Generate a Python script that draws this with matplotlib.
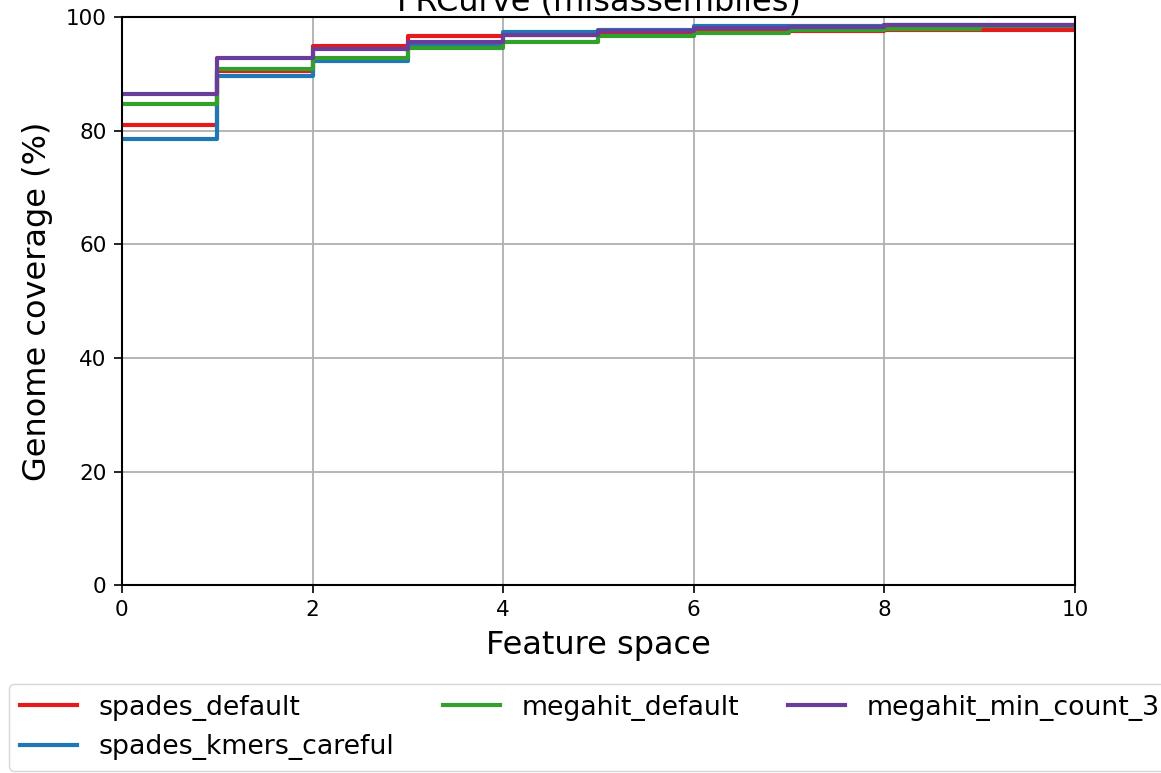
import matplotlib
matplotlib.use("Agg")
import matplotlib.pyplot as plt

x = [0, 1, 2, 3, 4, 5, 6, 7, 8, 9, 10]
names = ["spades_default", "spades_kmers_careful", "megahit_default", "megahit_min_count_3"]
spades_default = [81.0, 90.5, 94.9, 96.7, 96.8, 97.3, 97.5, 97.6, 97.7, 97.7, 97.7]
spades_kmers_careful = [78.5, 89.7, 92.3, 95.0, 97.4, 97.8, 98.4, 98.5, 98.6, 98.6, 98.6]
megahit_default = [84.7, 90.9, 92.7, 94.5, 95.6, 96.6, 97.2, 97.8, 97.9, 98.5, 98.5]
megahit_min_count_3 = [86.4, 92.7, 94.4, 95.6, 96.8, 97.6, 98.0, 98.3, 98.6, 98.6, 98.6]
series = [spades_default, spades_kmers_careful, megahit_default, megahit_min_count_3]
colors = ["#e41a1c", "#1f78b4", "#33a02c", "#6a3d9a"]

fig = plt.figure(figsize=(11.61, 7.73), dpi=100)
ax = fig.add_axes([0.105, 0.243, 0.821, 0.735])
for name, ys, c in zip(names, series, colors):
    ax.plot(x, ys, drawstyle="steps-post", color=c, lw=3, label=name)
ax.set_xlim(0, 10)
ax.set_ylim(0, 100)
ax.grid(True, color="#b0b0b0", lw=1.3)
ax.set_axisbelow(True)
ax.tick_params(labelsize=15.5, length=6, width=1.2, pad=5)
for s in ax.spines.values():
    s.set_linewidth(1.5)
ax.set_xlabel("Feature space", fontsize=23, labelpad=7)
ax.set_ylabel("Genome coverage (%)", fontsize=23, labelpad=9)
ax.set_title("FRCurve (misassemblies)", fontsize=23, pad=3)
fig.legend(*ax.get_legend_handles_labels(), loc="upper left",
           bbox_to_anchor=(9 / 1161, 1 - 684 / 773), bbox_transform=fig.transFigure,
           ncol=3, fontsize=19.3, handlelength=2.15, columnspacing=1.8,
           borderaxespad=0, frameon=True, fancybox=True, edgecolor="#cccccc")
fig.savefig("out.png", dpi=100)
